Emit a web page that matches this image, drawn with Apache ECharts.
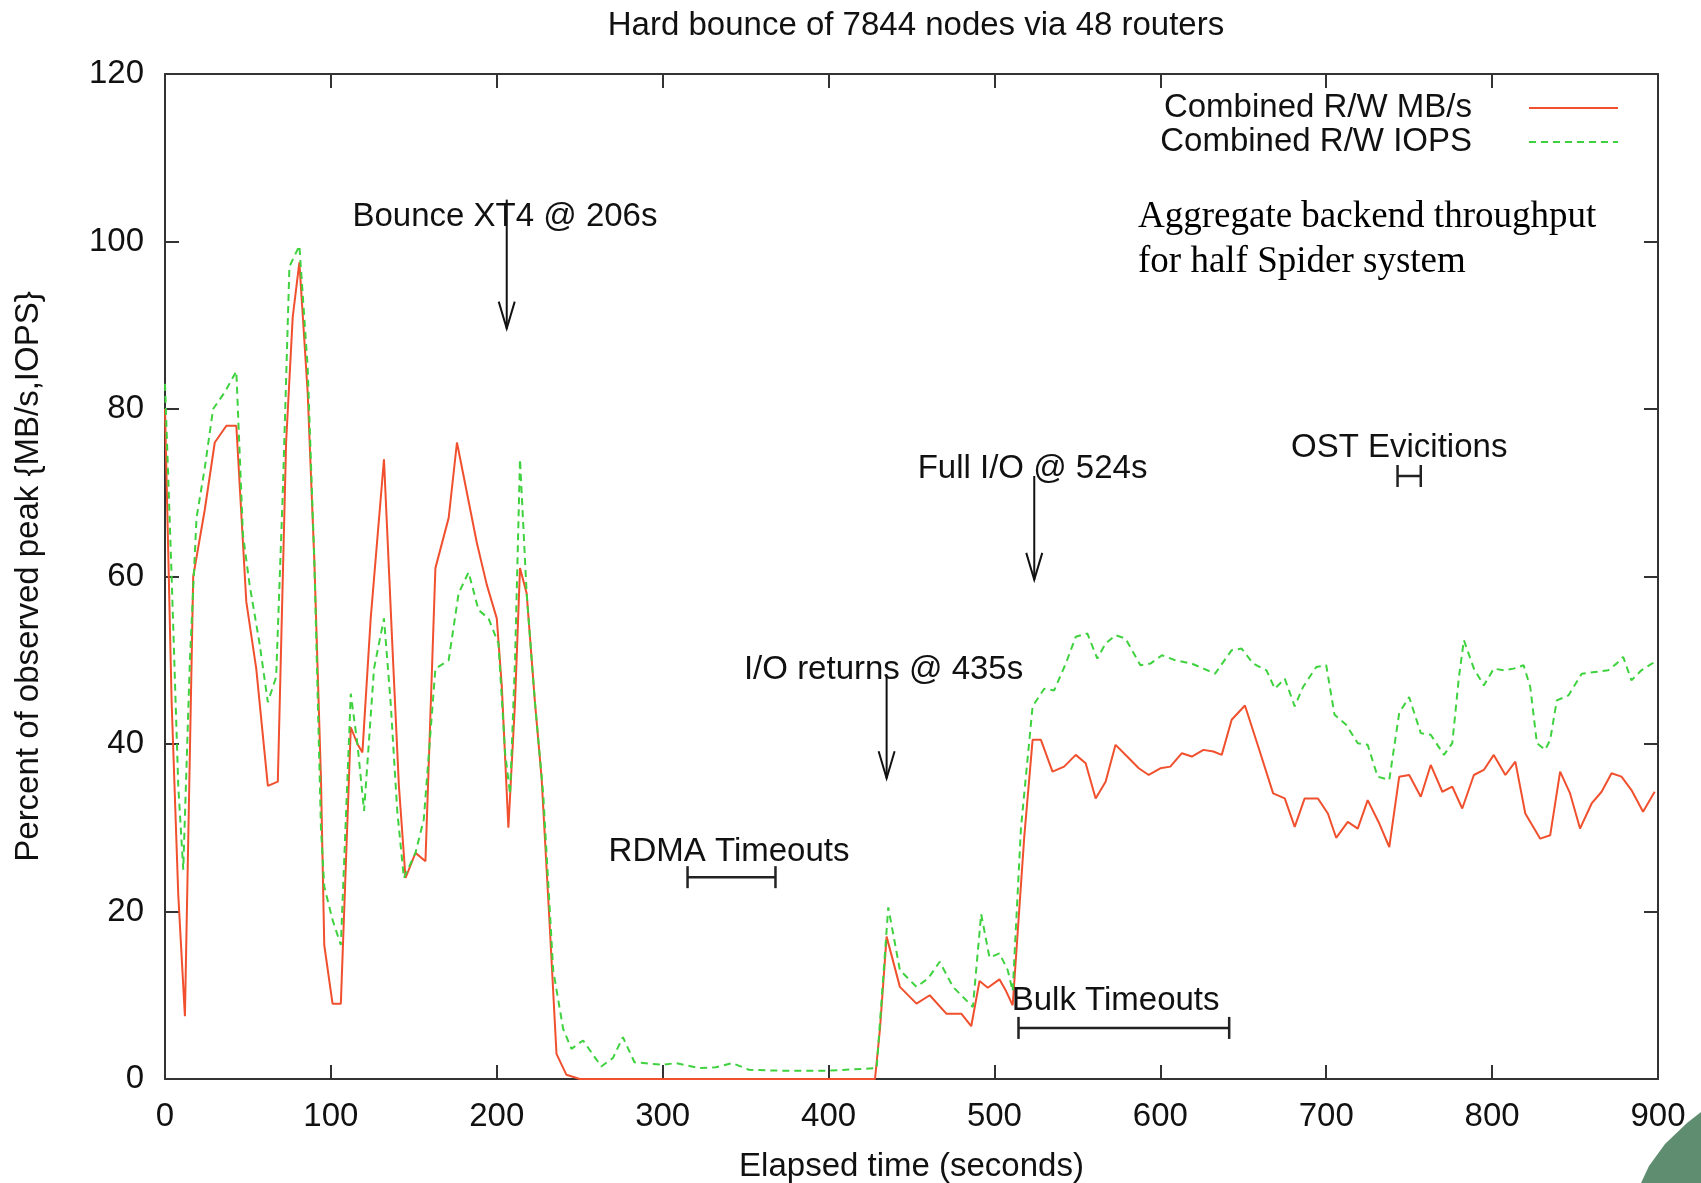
<!DOCTYPE html>
<html>
<head>
<meta charset="utf-8">
<script src="https://cdn.jsdelivr.net/npm/echarts@6/dist/echarts.min.js"></script>
<style>
  html, body { margin: 0; padding: 0; background: #ffffff; }
  #chart { width: 1701px; height: 1183px; }
</style>
</head>
<body>
<div id="chart"></div>
<script>
// Combined read/write bandwidth, percent of observed peak
const mbTime = [0, 4, 8, 12, 17, 24, 30, 37, 43, 49, 55, 62, 68, 73, 77, 81, 86, 90, 94, 96,
  101, 106, 112, 116, 119, 124, 132, 137, 141, 145, 151, 157, 163, 171, 176, 182, 188, 194, 200, 203,
  207, 211, 214, 218, 223, 227, 232, 236, 242, 250, 300, 360, 428, 431, 435, 443, 453, 461, 471, 480,
  486, 491, 496, 503, 507, 511, 518, 523, 528, 535, 542, 549, 555, 561, 567, 573, 580, 587, 593, 600,
  606, 613, 619, 626, 632, 637, 643, 651, 659, 668, 675, 681, 687, 695, 701, 706, 713, 719, 725, 732,
  738, 744, 750, 757, 763, 770, 776, 782, 789, 795, 801, 808, 814, 820, 829, 835, 841, 847, 853, 860,
  866, 872, 878, 884, 891, 898];
const mbValue = [80, 45, 22, 7.5, 60, 68, 76, 78, 78, 57, 49, 35, 35.5, 76, 91, 97.5, 82, 62, 36, 16,
  9, 9, 42, 40, 39, 55, 74, 52, 35, 24, 27, 26, 61, 67, 76, 70, 64, 59, 55, 47,
  30, 45, 61, 58, 45, 36, 18, 3, 0.5, 0, 0, 0, 0, 6, 17, 11, 9, 10, 7.8, 7.8,
  6.3, 11.7, 10.9, 11.9, 10.5, 8.8, 29, 40.5, 40.5, 36.7, 37.3, 38.7, 37.7, 33.5, 35.5, 39.9, 38.5, 37.1, 36.3, 37.1,
  37.3, 38.9, 38.5, 39.3, 39.1, 38.7, 42.9, 44.6, 39.7, 34.1, 33.5, 30.1, 33.5, 33.5, 31.7, 28.8, 30.7, 29.9, 33.3, 30.5,
  27.7, 36.1, 36.3, 33.7, 37.5, 34.3, 34.9, 32.3, 36.3, 36.9, 38.7, 36.3, 37.9, 31.7, 28.7, 29.1, 36.7, 34.1, 29.9, 32.9,
  34.3, 36.5, 36.1, 34.5, 31.9, 34.3];

// Combined read/write operations per second, percent of observed peak
const iopsTime = [0, 4, 8, 11, 15, 19, 24, 29, 36, 43, 47, 51, 57, 62, 67, 71, 75, 81, 86, 90,
  94, 96, 101, 106, 112, 116, 120, 126, 132, 136, 140, 144, 151, 156, 163, 171, 177, 183, 189, 195,
  201, 205, 208, 211, 214, 218, 223, 228, 234, 240, 245, 252, 263, 270, 276, 283, 300, 308, 322, 332,
  342, 352, 370, 400, 429, 436, 443, 453, 460, 467, 475, 487, 492, 497, 503, 508, 511, 516, 523, 530,
  536, 543, 549, 556, 562, 567, 573, 579, 588, 594, 601, 609, 619, 626, 633, 643, 649, 656, 664, 669,
  675, 681, 686, 694, 700, 705, 712, 719, 725, 731, 738, 744, 750, 757, 763, 771, 776, 780, 783, 789,
  795, 801, 807, 813, 819, 823, 827, 832, 835, 839, 846, 854, 862, 870, 875, 879, 884, 890, 898];
const iopsValue = [83, 60, 35, 25, 50, 67, 73, 80, 82, 84.5, 65, 59, 52, 45, 48, 70, 97, 99.5, 85, 62,
  30, 23, 19, 16, 46, 40, 32, 49, 55, 45, 32, 24, 27, 31, 49, 50, 58, 60.5, 56, 55,
  52, 39, 34, 50, 74, 58, 45, 34, 13, 6, 3.6, 4.6, 1.5, 2.5, 5, 2, 1.7, 1.9, 1.3, 1.4,
  1.9, 1.1, 1, 1, 1.3, 20.5, 13, 11, 12, 14, 11, 8.6, 19.7, 14.5, 15, 13, 10.5, 30, 44.5, 46.6,
  46.4, 49.6, 52.8, 53.2, 50.2, 52, 53, 52.6, 49.4, 49.6, 50.6, 50, 49.6, 49, 48.4, 51.2, 51.4, 49.6, 48.8, 46.6,
  47.8, 44.5, 46.8, 49.2, 49.4, 43.5, 42.3, 40.1, 39.9, 36.1, 35.7, 43.7, 45.6, 41.3, 41.1, 38.7, 40.1, 48, 52.4, 49,
  47, 49, 48.8, 49, 49.4, 46.8, 40.1, 39.3, 40.5, 45.2, 45.8, 48.4, 48.6, 48.8, 49.6, 50.4, 47.6, 48.8, 49.8];

// Event arrows: time, start level, tip level
const arrowTime = [206, 435, 524];
const arrowFrom = [105, 48.3, 72];
const arrowTo = [89.6, 35.9, 59.6];

// Time spans (start, end, level)
const spanStart = [315, 514.5, 743];
const spanEnd = [368, 641.5, 757];
const spanLevel = [24.1, 6.1, 72];

// Text notes placed in data coordinates
const noteText = ['Bounce XT4 @ 206s', 'I/O returns @ 435s', 'Full I/O @ 524s', 'RDMA Timeouts', 'Bulk Timeouts', 'OST Evicitions'];
const noteTime = [113, 349, 453.7, 340, 510.4, 744];
const noteLevel = [102.9, 48.8, 72.8, 27.1, 9.3, 75.3];
const noteAlign = ['left', 'left', 'left', 'center', 'left', 'center'];

const seriesNames = ['Combined R/W MB/s', 'Combined R/W IOPS'];

const FONT = '"Liberation Sans", Arial, Helvetica, sans-serif';
const INK = '#111111';
const FS = 33;

const chart = echarts.init(document.getElementById('chart'), null, { renderer: 'canvas' });

const axisCommon = {
  type: 'value',
  axisLine: { show: true, onZero: false, lineStyle: { color: '#333', width: 2 } },
  axisTick: { show: true, inside: true, length: 14, lineStyle: { color: '#333', width: 2 } },
  splitLine: { show: false }
};

chart.setOption({
  backgroundColor: '#ffffff',
  animation: false,
  title: {
    text: 'Hard bounce of 7844 nodes via 48 routers',
    left: 911, textAlign: 'center', top: 4,
    textStyle: { fontFamily: FONT, fontSize: FS, fontWeight: 'normal', color: INK }
  },
  grid: { left: 165, right: 43, top: 74, bottom: 104, containLabel: false, outerBoundsMode: 'none' },
  legend: {
    orient: 'vertical', right: 77, top: 86, align: 'right',
    itemWidth: 89, itemHeight: 14, itemGap: 0,
    itemStyle: { opacity: 0 },
    data: seriesNames,
    textStyle: { fontFamily: FONT, fontSize: FS, color: INK, lineHeight: 34, padding: [0, 52, 0, 0] }
  },
  xAxis: [
    Object.assign({}, axisCommon, {
      min: 0, max: 900, interval: 100, position: 'bottom',
      name: 'Elapsed time (seconds)', nameLocation: 'middle', nameGap: 71,
      nameTextStyle: { fontFamily: FONT, fontSize: FS, color: INK },
      axisLabel: { margin: 21, fontFamily: FONT, fontSize: FS, color: INK }
    }),
    Object.assign({}, axisCommon, {
      min: 0, max: 900, interval: 100, position: 'top',
      axisLabel: { show: false }
    })
  ],
  yAxis: [
    Object.assign({}, axisCommon, {
      min: 0, max: 120, interval: 20, position: 'left',
      name: 'Percent of observed peak {MB/s,IOPS}', nameLocation: 'middle', nameGap: 120,
      nameTextStyle: { fontFamily: FONT, fontSize: FS, color: INK },
      axisLabel: { margin: 21, fontFamily: FONT, fontSize: FS, color: INK }
    }),
    Object.assign({}, axisCommon, {
      min: 0, max: 120, interval: 20, position: 'right',
      axisLabel: { show: false }
    })
  ],
  series: [
    {
      name: seriesNames[0], type: 'line', symbol: 'none', showSymbol: false,
      data: mbTime.map((t, i) => [t, mbValue[i]]),
      color: '#f0502e',
      lineStyle: { color: '#f0502e', width: 2 },
      z: 3
    },
    {
      name: seriesNames[1], type: 'line', symbol: 'none', showSymbol: false,
      data: iopsTime.map((t, i) => [t, iopsValue[i]]),
      color: '#3fd23f',
      lineStyle: { color: '#3fd23f', width: 2, type: [7, 5] },
      z: 4
    },
    {
      // event arrows
      type: 'custom', silent: true, z: 6,
      data: arrowTime.map((t, i) => [t, arrowFrom[i], arrowTo[i]]),
      encode: { x: 0, y: [1, 2] },
      renderItem: function (params, api) {
        const p0 = api.coord([api.value(0), api.value(1)]);
        const p1 = api.coord([api.value(0), api.value(2)]);
        return {
          type: 'group',
          children: [
            { type: 'line', shape: { x1: p0[0], y1: p0[1], x2: p1[0], y2: p1[1] },
              style: { stroke: INK, lineWidth: 2 } },
            { type: 'polyline', shape: { points: [[p1[0] - 8, p1[1] - 27], [p1[0], p1[1]], [p1[0] + 8, p1[1] - 27]] },
              style: { stroke: INK, lineWidth: 2, fill: null } }
          ]
        };
      }
    },
    {
      // time spans with end caps
      type: 'custom', silent: true, z: 6,
      data: spanStart.map((t, i) => [t, spanEnd[i], spanLevel[i]]),
      encode: { x: [0, 1], y: 2 },
      renderItem: function (params, api) {
        const a = api.coord([api.value(0), api.value(2)]);
        const b = api.coord([api.value(1), api.value(2)]);
        const cap = 11;
        return {
          type: 'group',
          children: [
            { type: 'line', shape: { x1: a[0], y1: a[1], x2: b[0], y2: b[1] }, style: { stroke: '#222', lineWidth: 2.5 } },
            { type: 'line', shape: { x1: a[0], y1: a[1] - cap, x2: a[0], y2: a[1] + cap }, style: { stroke: '#222', lineWidth: 2.5 } },
            { type: 'line', shape: { x1: b[0], y1: b[1] - cap, x2: b[0], y2: b[1] + cap }, style: { stroke: '#222', lineWidth: 2.5 } }
          ]
        };
      }
    },
    {
      // text notes
      type: 'custom', silent: true, z: 7,
      data: noteTime.map((t, i) => [t, noteLevel[i]]),
      encode: { x: 0, y: 1 },
      renderItem: function (params, api) {
        const p = api.coord([api.value(0), api.value(1)]);
        const i = params.dataIndex;
        return {
          type: 'text', x: p[0], y: p[1],
          style: {
            text: noteText[i], fill: INK,
            font: FS + 'px ' + FONT,
            textAlign: noteAlign[i], textVerticalAlign: 'middle'
          }
        };
      }
    }
  ],
  graphic: [
    {
      type: 'text', left: 1138, top: 195,
      style: {
        text: 'Aggregate backend throughput\nfor half Spider system',
        font: '37px "Liberation Serif", "Times New Roman", serif',
        lineHeight: 45, fill: '#000'
      }
    },
    {
      type: 'polygon', silent: true,
      shape: { points: [[1641, 1183], [1649, 1166], [1665, 1144], [1687, 1123], [1701, 1112], [1701, 1183]] },
      style: { fill: '#5f8d70' }
    }
  ]
});
</script>
</body>
</html>
